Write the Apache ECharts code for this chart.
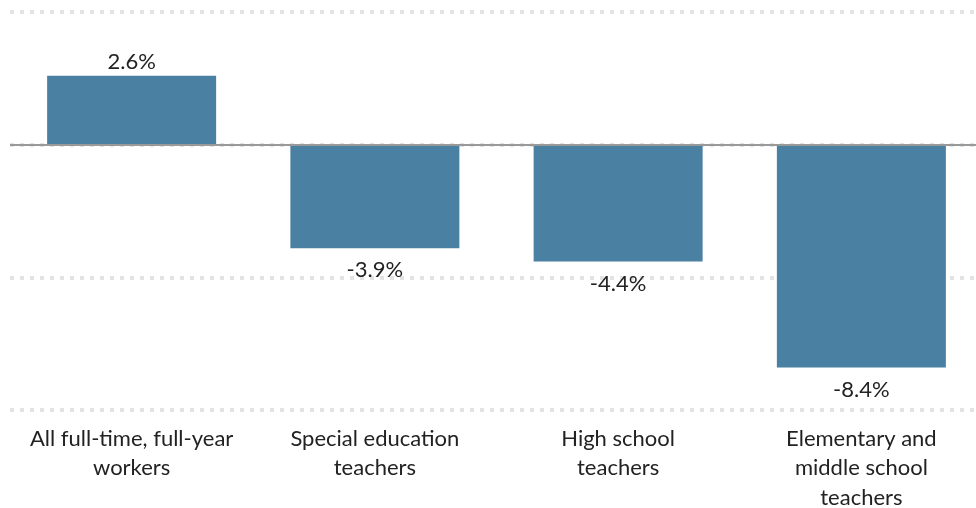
<!DOCTYPE html>
<html lang="en">

<head>
    <title>Teacher pay change</title>
    <meta charset="UTF-8">
    <script src="https://cdn.jsdelivr.net/npm/echarts@6/dist/echarts.min.js"></script>
    <style>
        html, body { margin: 0; padding: 0; background: #fff; }
        #main { width: 976px; height: 508px; }
    </style>
</head>

<body>
    <div id="main"></div>
    <script>
        // data
        var categories = [
            'All full-time, full-year\nworkers',
            'Special education\nteachers',
            'High school\nteachers',
            'Elementary and\nmiddle school\nteachers'
        ];
        var changes = [2.6, -3.9, -4.4, -8.4];
        var yTicks = [-10, -5, 0, 5];

        var myChart = echarts.init(document.getElementById('main'));

        var barData = [];
        for (var i = 0; i < changes.length; i++) {
            var up = changes[i] >= 0;
            barData.push({
                value: changes[i],
                label: { position: up ? 'top' : 'bottom', distance: up ? 3 : 11 }
            });
        }

        myChart.setOption({
            animation: false,
            textStyle: { fontFamily: 'Lato' },
            grid: { left: 10, right: -7, top: 12, bottom: 98, outerBoundsMode: 'none' },
            xAxis: {
                type: 'category',
                data: categories,
                axisLine: { show: false },
                axisTick: { show: false },
                axisLabel: {
                    interval: 0,
                    color: '#222',
                    fontSize: 22,
                    lineHeight: 29.5,
                    margin: 14
                }
            },
            yAxis: {
                type: 'value',
                min: yTicks[0],
                max: yTicks[yTicks.length - 1],
                interval: 5,
                axisLabel: { show: false },
                axisLine: { show: false },
                axisTick: { show: false },
                splitLine: {
                    lineStyle: { color: '#e3e3e3', width: 4, type: [4, 6] }
                }
            },
            series: [{
                type: 'bar',
                data: barData,
                barWidth: 169,
                itemStyle: { color: '#4a80a2' },
                label: {
                    show: true,
                    color: '#222',
                    fontSize: 22,
                    formatter: function (p) { return p.value.toFixed(1) + '%'; }
                },
                markLine: {
                    silent: true,
                    symbol: 'none',
                    label: { show: false },
                    lineStyle: { color: '#999', width: 2, type: 'solid' },
                    data: [{ yAxis: 0 }]
                }
            }]
        });
    </script>
</body>

</html>
